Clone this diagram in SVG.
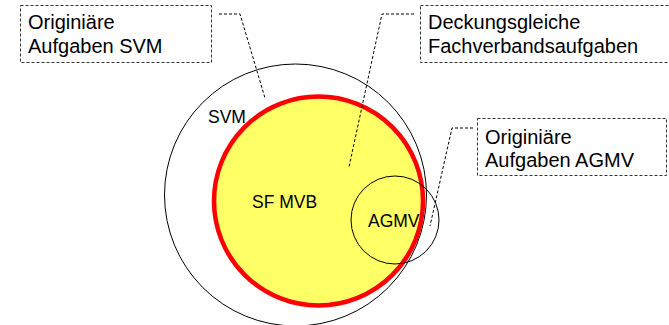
<svg xmlns="http://www.w3.org/2000/svg" width="669" height="325" viewBox="0 0 669 325">
  <style>
    .box { fill: #ffffff; stroke: #333333; stroke-width: 1; stroke-dasharray: 3,2; }
    .leader { fill: none; stroke: #000000; stroke-width: 1; stroke-dasharray: 3,2; }
    .ring { fill: none; stroke: #000000; stroke-width: 1; }
    .big { font-family: "Liberation Sans", Arial, sans-serif; font-size: 20px; fill: #000000; }
    .small { font-family: "Liberation Sans", Arial, sans-serif; font-size: 17.5px; fill: #000000; }
  </style>
  <rect width="669" height="325" fill="#ffffff"/>

  <g id="svm">
    <circle class="ring" cx="295.5" cy="195" r="131"/>
    <text class="small" x="208" y="123">SVM</text>
  </g>

  <g id="sf-mvb">
    <circle cx="318.5" cy="201" r="104.5" fill="#FFFF66" stroke="#FF0000" stroke-width="4.5"/>
    <text class="small" x="252" y="208">SF MVB</text>
  </g>

  <g id="agmv">
    <circle class="ring" cx="395" cy="220" r="44"/>
    <text class="small" x="368" y="227">AGMV</text>
  </g>

  <g id="connectors">
    <polyline class="leader" points="219,14 240,14 265,98"/>
    <polyline class="leader" points="414,14 382,14 349,167"/>
    <polyline class="leader" points="473,128 452,128 430,226"/>
  </g>

  <g id="label-svm">
    <rect class="box" x="20.5" y="5.5" width="191" height="57"/>
    <text class="big" x="28" y="29">Originiäre</text>
    <text class="big" x="28" y="53">Aufgaben SVM</text>
  </g>

  <g id="label-deckungsgleich">
    <rect class="box" x="420.5" y="5.5" width="250" height="57"/>
    <text class="big" x="428" y="29">Deckungsgleiche</text>
    <text class="big" x="428" y="53">Fachverbandsaufgaben</text>
  </g>

  <g id="label-agmv">
    <rect class="box" x="477.5" y="118.5" width="189" height="57"/>
    <text class="big" x="485" y="143.5">Originiäre</text>
    <text class="big" x="485" y="167">Aufgaben AGMV</text>
  </g>
</svg>
